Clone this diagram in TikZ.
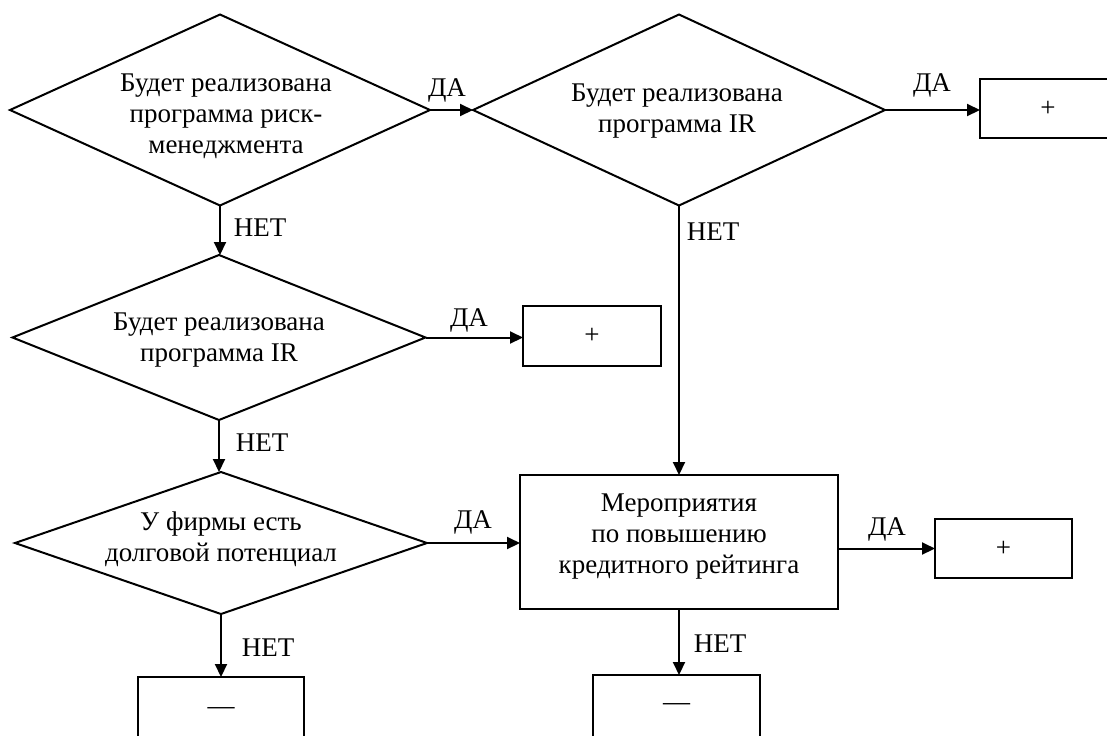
\documentclass[tikz,border=0pt]{standalone}
\usepackage{fontspec}
\setmainfont{Liberation Serif}
\usetikzlibrary{shapes.geometric,arrows.meta}
\newcommand{\fs}{\fontsize{13.5}{15.5}\selectfont}
\tikzset{
  dia/.style={diamond, draw, line width=1pt, inner sep=0pt, outer sep=0pt},
  box/.style={rectangle, draw, line width=1pt, inner sep=0pt, outer sep=0pt, font=\fs},
  txt/.style={align=center, font=\fs, inner sep=0pt},
  lbl/.style={font=\fs, inner sep=0pt},
  arr/.style={-{Triangle[length=6.5pt,width=6pt]}, line width=1pt},
  ln/.style={line width=1pt},
}
\begin{document}
\begin{tikzpicture}[x=0.5pt,y=-0.5pt]
\useasboundingbox (0,0) rectangle (1107,735);
\clip (0,0) rectangle (1107,735);
% diamonds
\node[dia, minimum width=210pt, minimum height=95.5pt] (d1) at (220,110) {};
\node[txt] (d1t) at (226,116) {Будет реализована\\программа риск-\\менеджмента};
\node[dia, minimum width=206pt, minimum height=95.5pt] (d2) at (679,110) {};
\node[txt] (d2t) at (677,111) {Будет реализована\\программа IR};
\node[dia, minimum width=206.5pt, minimum height=82.5pt] (d3) at (219,337.5) {};
\node[txt] (d3t) at (219,340) {Будет реализована\\программа IR};
\node[dia, minimum width=206pt, minimum height=71pt] (d4) at (221,543) {};
\node[txt] (d4t) at (221,539) {У фирмы есть\\долговой потенциал};
% boxes
\node[box, minimum width=68pt, minimum height=29.5pt] (p1) at (1048,108.5) {+};
\node[box, minimum width=69pt, minimum height=30pt] (p2) at (592,336) {+};
\node[box, minimum width=159pt, minimum height=67pt] (m) at (679,542) {};
\node[txt] (mt) at (679,537) {Мероприятия\\по повышению\\кредитного рейтинга};
\node[box, minimum width=68.5pt, minimum height=29.5pt] (p3) at (1003.5,548.5) {+};
\node[box, minimum width=83pt, minimum height=34pt] (b1) at (221,711) {—};
\node[box, minimum width=83.5pt, minimum height=32pt] (b2) at (676.5,707) {—};
% connectors
\draw[arr] (d1.east) -- (d2.west);
\draw[arr] (d2.east) -- (d2.east -| p1.west);
\draw[arr] (d1.south) -- (d1.south |- d3.north);
\draw[arr] (d3.east) -- (d3.east -| p2.west);
\draw[arr] (d2.south) -- (d2.south |- m.north);
\draw[arr] (d3.south) -- (d3.south |- d4.north);
\draw[arr] (d4.east) -- (d4.east -| m.west);
\draw[arr] (p3.west -| m.east) -- (p3.west);
\draw[arr] (d4.south) -- (d4.south |- b1.north);
\draw[arr] (m.south) -- (m.south |- b2.north);
% labels
\node[lbl] (l1) at (447,90) {ДА};
\node[lbl] (l2) at (260,228) {НЕТ};
\node[lbl] (l3) at (932,85) {ДА};
\node[lbl] (l4) at (713,232) {НЕТ};
\node[lbl] (l5) at (469,320) {ДА};
\node[lbl] (l6) at (262,443) {НЕТ};
\node[lbl] (l7) at (473,522) {ДА};
\node[lbl] (l8) at (268,648) {НЕТ};
\node[lbl] (l9) at (887,529) {ДА};
\node[lbl] (l10) at (720,644) {НЕТ};
\end{tikzpicture}
\end{document}
